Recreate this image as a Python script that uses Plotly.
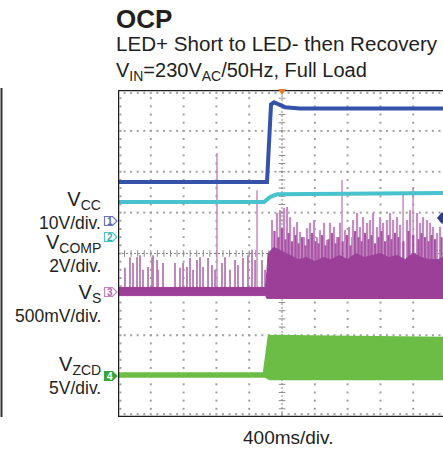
import plotly.graph_objects as go

W, H = 443, 451
T_MAX = 3963  # visible time span in ms (400 ms/div)

# ---------------- data (time in ms, level in screen divisions, 0 = bottom) -------------
vcc_t = [0, 1817, 1866, 1902, 2037, 2220, 3963]
vcc_v = [5.75, 5.75, 7.65, 7.70, 7.58, 7.55, 7.55]

vcomp_t = [0, 1780, 1854, 1940, 3963]
vcomp_v = [5.26, 5.26, 5.38, 5.45, 5.48]

vs_env_t = [0, 1800, 1815, 1830, 1900, 2000, 2100, 2200, 2300, 2400, 2500, 2600, 2700,
            2800, 2900, 3000, 3100, 3200, 3300, 3400, 3500, 3600, 3700, 3800, 3900, 3963]
vs_env_lo = [2.97, 2.97, 2.90, 2.90, 2.90, 2.90, 2.90, 2.90, 2.90, 2.90, 2.90, 2.90, 2.90,
             2.90, 2.90, 2.90, 2.90, 2.90, 2.90, 2.90, 2.90, 2.90, 2.90, 2.90, 2.90, 2.90]
vs_env_hi = [3.17, 3.17, 3.55, 4.00, 4.15, 4.05, 3.95, 3.85, 3.90, 3.80, 3.90, 3.85, 3.95,
             3.85, 4.00, 3.90, 3.95, 4.00, 3.90, 3.95, 3.85, 4.00, 3.90, 3.85, 3.85, 3.90]

vs_pre_spike_t = [85, 146, 183, 232, 268, 305, 366, 415, 427, 476, 488, 549, 695, 756, 793,
                  841, 878, 915, 963, 1000, 1037, 1098, 1146, 1183, 1268, 1305, 1366, 1427,
                  1463, 1524, 1585, 1634, 1671, 1756, 1793]
vs_pre_spike_top = [3.65, 3.91, 3.77, 3.91, 3.96, 3.60, 3.67, 3.91, 3.96, 3.84, 3.60, 3.77,
                    3.77, 3.65, 3.77, 3.67, 3.89, 3.60, 3.84, 3.91, 3.67, 3.89, 3.72, 3.60,
                    3.77, 3.91, 3.60, 3.84, 3.72, 3.89, 3.96, 4.09, 3.84, 3.84, 3.60]

vs_post_spike_t = [1878, 1939, 1976, 2024, 2061, 2098, 2146, 2183, 2220, 2268, 2305, 2341,
                   2390, 2427, 2463, 2512, 2549, 2585, 2634, 2671, 2707, 2768, 2817, 2854,
                   2866, 2915, 2951, 2988, 3037, 3073, 3110, 3159, 3195, 3232, 3280, 3317,
                   3354, 3402, 3439, 3524, 3561, 3646, 3683, 3719, 3768, 3805, 3841, 3890, 3927]
vs_post_spike_top = [4.82, 4.99, 5.06, 5.11, 5.14, 4.89, 4.65, 4.77, 4.53, 4.40, 4.62, 4.75,
                     4.82, 4.40, 4.57, 4.75, 4.33, 4.75, 4.65, 4.40, 4.75, 4.57, 4.65, 4.40,
                     4.82, 4.99, 4.65, 4.89, 4.75, 4.82, 4.99, 4.65, 4.89, 4.75, 4.82, 4.99,
                     4.82, 4.89, 4.70, 4.82, 5.06, 4.99, 4.75, 4.89, 4.82, 4.75, 4.65, 4.50, 4.65]

vs_mid_spike_t = [1908, 1957, 2000, 2042, 2080, 2122, 2164, 2201, 2244, 2286, 2323, 2366,
                  2408, 2445, 2488, 2530, 2567, 2610, 2652, 2689, 2740, 2792, 2835, 2890,
                  2933, 2970, 3012, 3055, 3091, 3134, 3177, 3213, 3256, 3298, 3335, 3378,
                  3420, 3480, 3543, 3600, 3665, 3701, 3744, 3786, 3823, 3866, 3945]
vs_mid_spike_top = [4.55, 4.40, 4.62, 4.35, 4.50, 4.30, 4.45, 4.25, 4.40, 4.20, 4.35, 4.50,
                    4.30, 4.25, 4.45, 4.20, 4.35, 4.50, 4.25, 4.40, 4.30, 4.45, 4.20, 4.55,
                    4.40, 4.30, 4.50, 4.35, 4.45, 4.25, 4.40, 4.55, 4.30, 4.45, 4.35, 4.50,
                    4.40, 4.30, 4.55, 4.45, 4.35, 4.50, 4.40, 4.30, 4.45, 4.35, 4.40]

vs_tall_spike_t = [1207, 1695, 2732, 3476, 3598]
vs_tall_spike_top = [6.46, 5.55, 5.80, 5.43, 5.60]
vs_tall_spike_base = [3.10, 3.10, 3.80, 3.80, 3.80]

zcd_t = [0, 1793, 1854, 3963]
zcd_lo = [1.03, 1.03, 0.96, 0.96]
zcd_hi = [1.03, 1.03, 1.95, 1.90]

channel_names = ['V<sub>CC</sub>', 'V<sub>COMP</sub>', 'V<sub>S</sub>', 'V<sub>ZCD</sub>']
channel_scales = ['10V/div.', '2V/div.', '500mV/div.', '5V/div.']

# ---------------- colours ----------------
C_VCC = '#3553a8'
C_VCOMP = '#48c2cc'
C_VS = '#9b3f98'
C_VS_MID = '#a853a6'
C_VS_PRE = '#b87ab6'
C_VS_LIGHT = '#c48ec2'
C_ZCD = '#6bbd45'
C_TXT = '#231f20'
C_FRAME = '#1e1e1e'
C_GRID = '#a0a0a0'
FONT = 'Liberation Sans, Arial, Helvetica, sans-serif'

fig = go.Figure()

# graticule dots
gx, gy = [], []
for i in range(1, 10):
    if i == 5:
        continue
    for j in range(0, 41):
        gx.append(i * 400); gy.append(j * 0.2)
for j in range(1, 8):
    if j == 4:
        continue
    for i in range(0, 51):
        gx.append(i * 80); gy.append(j)
for i in range(0, 51):
    gx.append(i * 80); gy.append(0.07)
    gx.append(i * 80); gy.append(7.93)
for j in range(0, 41):
    gx.append(30); gy.append(j * 0.2)
fig.add_trace(go.Scatter(x=gx, y=gy, mode='markers', hoverinfo='skip',
                         marker=dict(symbol='square', size=2, color=C_GRID, line=dict(width=0))))

# center lines with ticks
cx, cy = [], []
for j in range(0, 41):
    cx += [2000 - 40, 2000 + 40, None]; cy += [j * 0.2, j * 0.2, None]
for i in range(0, 51):
    cx += [i * 80, i * 80, None]; cy += [4 - 0.08, 4 + 0.08, None]
fig.add_trace(go.Scatter(x=cx, y=cy, mode='lines', hoverinfo='skip',
                         line=dict(color='#8a8a8a', width=1)))
fig.add_trace(go.Scatter(x=[0, T_MAX], y=[4, 4], mode='lines', hoverinfo='skip',
                         line=dict(color='#8a8a8a', width=1, dash='2px,2px')))
fig.add_trace(go.Scatter(x=[2000, 2000], y=[0, 8], mode='lines', hoverinfo='skip',
                         line=dict(color='#8a8a8a', width=1, dash='2px,2px')))

# V_S
def spikes(ts, tops, bases):
    xs, ys = [], []
    for t, top, b in zip(ts, tops, bases):
        xs += [t, t, None]; ys += [b, top, None]
    return xs, ys

xs, ys = spikes(vs_tall_spike_t, vs_tall_spike_top, vs_tall_spike_base)
fig.add_trace(go.Scatter(x=xs, y=ys, mode='lines', line=dict(color=C_VS_LIGHT, width=1.5),
                         hoverinfo='skip'))
xs, ys = spikes(vs_pre_spike_t, vs_pre_spike_top, [3.1] * len(vs_pre_spike_t))
fig.add_trace(go.Scatter(x=xs, y=ys, mode='lines', line=dict(color=C_VS_PRE, width=1.8),
                         hoverinfo='skip'))
xs, ys = spikes(vs_post_spike_t, vs_post_spike_top, [3.6] * len(vs_post_spike_t))
fig.add_trace(go.Scatter(x=xs, y=ys, mode='lines', line=dict(color=C_VS_LIGHT, width=2.2),
                         hoverinfo='skip'))
xs, ys = spikes(vs_mid_spike_t, vs_mid_spike_top, [3.6] * len(vs_mid_spike_t))
fig.add_trace(go.Scatter(x=xs, y=ys, mode='lines', line=dict(color=C_VS_MID, width=2.2),
                         hoverinfo='skip'))
fig.add_trace(go.Scatter(x=vs_env_t, y=vs_env_lo, mode='lines', line=dict(color=C_VS, width=1),
                         hoverinfo='skip'))
fig.add_trace(go.Scatter(x=vs_env_t, y=vs_env_hi, mode='lines', line=dict(color=C_VS, width=1),
                         fill='tonexty', fillcolor=C_VS, hoverinfo='skip'))

# V_ZCD
fig.add_trace(go.Scatter(x=zcd_t, y=zcd_lo, mode='lines', line=dict(color=C_ZCD, width=5),
                         hoverinfo='skip'))
fig.add_trace(go.Scatter(x=zcd_t, y=zcd_hi, mode='lines', line=dict(color=C_ZCD, width=5),
                         fill='tonexty', fillcolor=C_ZCD, hoverinfo='skip'))

# V_COMP, V_CC
fig.add_trace(go.Scatter(x=vcomp_t, y=vcomp_v, mode='lines', line=dict(color=C_VCOMP, width=4),
                         hoverinfo='skip'))
fig.add_trace(go.Scatter(x=vcc_t, y=vcc_v, mode='lines', line=dict(color=C_VCC, width=4),
                         hoverinfo='skip'))

# ---------------- frame & decorations ----------------
def P(px, py):
    return px / W, 1 - py / H

shapes = []
for x0, y0, x1, y1 in [(0, 0, 0, 8), (0, 8, T_MAX, 8), (0, 0, T_MAX, 0)]:
    shapes.append(dict(type='line', xref='x', yref='y', x0=x0, y0=y0, x1=x1, y1=y1,
                       line=dict(color=C_FRAME, width=2.5)))
a, b = P(1.5, 88); c, d = P(1.5, 417)
shapes.append(dict(type='line', xref='paper', yref='paper', x0=a, y0=b, x1=c, y1=d,
                   line=dict(color='#333333', width=2)))

def path(pts):
    s = ''
    for k, (px, py) in enumerate(pts):
        x, y = P(px, py)
        s += ('M' if k == 0 else 'L') + f'{x:.5f},{y:.5f} '
    return s + 'Z'

shapes.append(dict(type='path', xref='paper', yref='paper',
                   path=path([(278, 89), (286, 89), (282, 95)]),
                   fillcolor='#f07a22', line=dict(width=0)))
shapes.append(dict(type='path', xref='paper', yref='paper',
                   path=path([(437, 218), (442, 212), (447, 218), (442, 224)]),
                   fillcolor='#2b3c8e', line=dict(width=0)))

markers = [('1', 221, '#6d72c4', 'white', '#5a5fb3'),
           ('2', 237, '#4cc4c4', 'white', '#2fb0b0'),
           ('3', 292, '#c783c5', 'white', '#b360b0'),
           ('4', 376, '#3aa53a', '#3aa53a', 'white')]
for lab, cyp, lc, fc, tc in markers:
    shapes.append(dict(type='path', xref='paper', yref='paper',
                       path=path([(104.5, cyp - 4.5), (112.5, cyp - 4.5), (117, cyp),
                                  (112.5, cyp + 4.5), (104.5, cyp + 4.5)]),
                       fillcolor=fc, line=dict(color=lc, width=1.2)))
fig.update_layout(shapes=shapes)

def ann(text, px, py, size, xanchor='left', yanchor='middle', color=C_TXT, align='left'):
    x, y = P(px, py)
    fig.add_annotation(x=x, y=y, xref='paper', yref='paper', text=text, showarrow=False,
                       xanchor=xanchor, yanchor=yanchor, borderpad=0, borderwidth=0,
                       align=align, font=dict(size=size, color=color, family=FONT))

for lab, cyp, lc, fc, tc in markers:
    ann('<b>' + lab + '</b>', 109.5, cyp, 10, xanchor='center', color=tc)

ann('<b>OCP</b>', 116, 19, 26)
ann('LED+ Short to LED- then Recovery', 116, 43, 20.6)
ann('V<sub>IN</sub>=230V<sub>AC</sub>/50Hz, Full Load', 116, 71, 20)

# channel name + scale, one block per channel (name larger than scale)
label_centres = [210.5, 253.5, 303, 375]
for name, scale, cyp in zip(channel_names, channel_scales, label_centres):
    ann('<span style="font-size:20px">' + name + '</span><br>' + scale, 101, cyp, 17.5,
        xanchor='right', align='right')

ann('400ms/div.', 288, 437, 19, xanchor='center')

fig.update_layout(
    width=W, height=H, margin=dict(l=0, r=0, t=0, b=0, pad=0),
    paper_bgcolor='white', plot_bgcolor='white', showlegend=False,
    font=dict(family=FONT, color=C_TXT),
    xaxis=dict(domain=[118 / W, 1], range=[0, T_MAX], visible=False, fixedrange=True),
    yaxis=dict(domain=[34 / H, 1 - 90 / H], range=[0, 8], visible=False, fixedrange=True),
)

fig.write_html('out.html', config={'displayModeBar': False},
               post_script="document.body.style.margin='0';document.body.style.padding='0';"
                           "document.body.style.overflow='hidden';"
                           "document.documentElement.style.overflow='hidden';")
